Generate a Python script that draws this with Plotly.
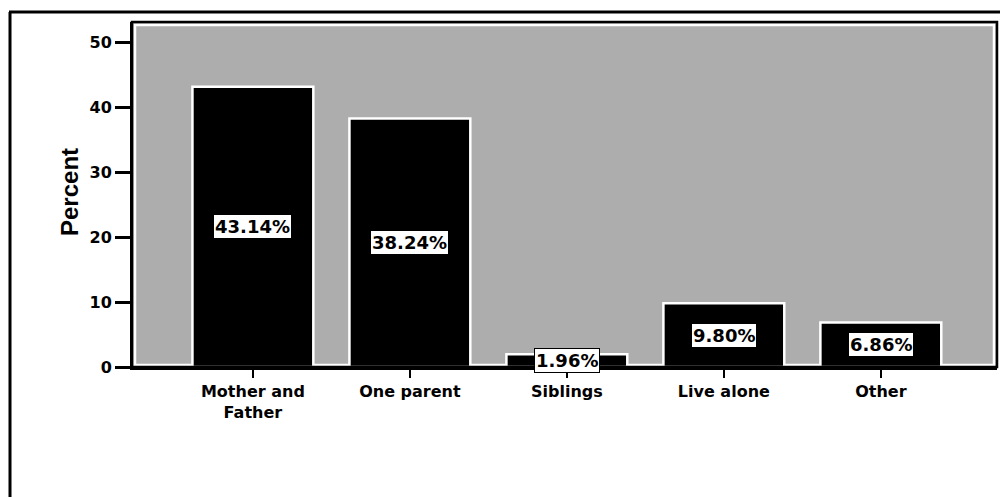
import plotly.graph_objects as go

categories = ["Mother and<br>Father", "One parent", "Siblings", "Live alone", "Other"]
percents = [43.14, 38.24, 1.96, 9.80, 6.86]
y_ticks = [0, 10, 20, 30, 40, 50]
y_title = "Percent"

# page body has an 8px default margin; work in reference pixel coordinates
OFF = 8
W, H = 1008 - OFF, 497 - OFF
L_REF, R_REF, T_REF, B_REF = 132, 997, 22, 367
ML, MT = L_REF - OFF, T_REF - OFF
MR = W - (R_REF - OFF)
MB = H - (B_REF - OFF)
PW, PH = W - ML - MR, H - MT - MB

def px_x(p):
    return (p - L_REF) / PW

def px_y(p):
    return (B_REF - p) / PH

fig = go.Figure()
fig.add_trace(go.Bar(
    x=categories, y=percents, width=0.77,
    marker=dict(color="black", line=dict(color="white", width=2.5)),
    hoverinfo="skip",
))

for c, v in zip(categories, percents):
    fig.add_annotation(
        x=c, y=v / 2, xref="x", yref="y", text=f"{v:.2f}%", showarrow=False,
        font=dict(family="DejaVu Sans", size=18, color="black", weight="bold"),
        bgcolor="white", bordercolor="black", borderwidth=1, borderpad=1,
    )

fig.add_annotation(
    x=px_x(69), y=px_y(192), xref="paper", yref="paper", text=y_title, showarrow=False,
    textangle=-90, xanchor="center", yanchor="middle",
    font=dict(family="Liberation Sans", size=24, color="black", weight="bold"),
)

shapes = [
    # inner white inset line of plot area
    dict(type="rect", xref="paper", yref="paper", x0=px_x(135), x1=px_x(994),
         y0=px_y(365), y1=px_y(25), line=dict(color="white", width=2.5), layer="below"),
    # plot area black frame
    dict(type="rect", xref="paper", yref="paper", x0=0, x1=1, y0=0, y1=1,
         line=dict(color="black", width=2.5), layer="above"),
    # outer page frame: top and left
    dict(type="line", xref="paper", yref="paper", x0=px_x(9), x1=px_x(1010),
         y0=px_y(12), y1=px_y(12), line=dict(color="black", width=3)),
    dict(type="line", xref="paper", yref="paper", x0=px_x(10), x1=px_x(10),
         y0=px_y(12), y1=px_y(500), line=dict(color="black", width=3)),
]

fig.update_layout(
    width=W, height=H,
    margin=dict(l=ML, r=MR, t=MT, b=MB),
    paper_bgcolor="white", plot_bgcolor="#adadad",
    showlegend=False, shapes=shapes,
)
fig.update_xaxes(
    type="category", range=[-0.77, 4.74], showgrid=False, zeroline=False,
    showline=True, linecolor="black", linewidth=3,
    ticks="outside", ticklen=8, tickwidth=2, tickcolor="black",
    tickfont=dict(family="DejaVu Sans", size=16, color="black", weight="bold"),
)
fig.update_yaxes(
    range=[0, 53.1], tickvals=y_ticks, showgrid=False, zeroline=False,
    showline=True, linecolor="black", linewidth=2,
    ticks="outside", ticklen=15, tickwidth=2.5, tickcolor="black",
    tickfont=dict(family="DejaVu Sans", size=16, color="black", weight="bold"),
)

fig.write_html("out.html")
